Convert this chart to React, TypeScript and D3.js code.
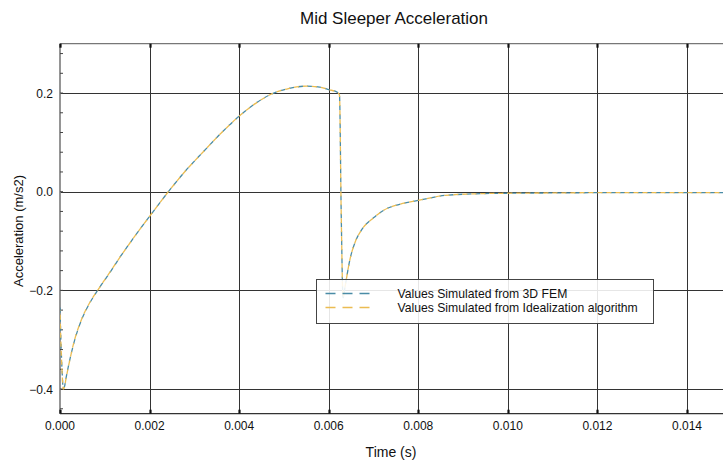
import React, { useRef, useEffect } from 'react'
import * as d3 from 'd3'

const timeFem = [
	0, 0.00002, 0.00005, 0.00007, 0.0001, 0.00013, 0.000185, 0.0003, 0.00048, 0.00065, 0.00084, 0.0011, 0.0013,
	0.0016, 0.002, 0.00242, 0.0028, 0.0032, 0.0036, 0.004, 0.0044, 0.0047, 0.0051, 0.0055, 0.0058, 0.006, 0.0062,
	0.00624, 0.00628, 0.00632, 0.00637, 0.00647, 0.0066, 0.00673, 0.007, 0.00722, 0.0076, 0.008, 0.0086, 0.0094,
	0.0101, 0.011, 0.012, 0.013, 0.014, 0.015,
]
const valuesFem = [
	-0.235, -0.3, -0.37, -0.398, -0.395, -0.38, -0.355, -0.31, -0.26, -0.228, -0.2, -0.166, -0.138, -0.099,
	-0.05, 0, 0.042, 0.081, 0.119, 0.153, 0.181, 0.197, 0.209, 0.214, 0.212, 0.207, 0.201, 0.196, -0.05, -0.215,
	-0.19, -0.139, -0.1, -0.078, -0.053, -0.038, -0.025, -0.0176, -0.0075, -0.004, -0.003, -0.0025, -0.002,
	-0.002, -0.002, -0.002,
]
const valuesIdeal = [
	-0.24, -0.305, -0.372, -0.4, -0.397, -0.381, -0.356, -0.309, -0.259, -0.227, -0.2, -0.165, -0.138, -0.099,
	-0.05, 0, 0.042, 0.081, 0.119, 0.153, 0.181, 0.197, 0.209, 0.214, 0.212, 0.207, 0.201, 0.196, -0.05, -0.215,
	-0.19, -0.139, -0.1, -0.078, -0.053, -0.038, -0.025, -0.0176, -0.0075, -0.004, -0.003, -0.0025, -0.002,
	-0.002, -0.002, -0.002,
]
const xTicks = [0, 0.002, 0.004, 0.006, 0.008, 0.01, 0.012, 0.014]
const yTicks = [-0.4, -0.2, 0.0, 0.2]
const seriesNames = ['Values Simulated from 3D FEM', 'Values Simulated from Idealization algorithm']
const seriesColors = ['#4a8ca6', '#ebbc52']

const App = () => {
	const svgRef = useRef<SVGSVGElement>(null)

	useEffect(() => {
		const svg = d3.select(svgRef.current)
		svg.selectAll('*').remove()

		const width = 723
		const height = 463
		const left = 60
		const top = 43.7
		const bottom = 413.7
		const font = 'Liberation Sans, Arial, sans-serif'

		const xScale = d3.scaleLinear().domain([0, 0.014]).range([60, 687])
		const yScale = d3.scaleLinear().domain([-0.45, 0.3]).range([bottom, top])

		svg.attr('width', width).attr('height', height)

		// grid lines
		svg
			.append('g')
			.selectAll('line')
			.data(xTicks.slice(1))
			.enter()
			.append('line')
			.attr('x1', d => Math.round(xScale(d)) + 0.5)
			.attr('x2', d => Math.round(xScale(d)) + 0.5)
			.attr('y1', top)
			.attr('y2', bottom)
			.attr('stroke', '#333')
			.attr('stroke-width', 1)

		svg
			.append('g')
			.selectAll('line')
			.data(yTicks)
			.enter()
			.append('line')
			.attr('x1', left)
			.attr('x2', width)
			.attr('y1', d => Math.round(yScale(d)) + 0.5)
			.attr('y2', d => Math.round(yScale(d)) + 0.5)
			.attr('stroke', '#333')
			.attr('stroke-width', 1)

		// frame
		svg.append('line').attr('x1', left).attr('x2', width).attr('y1', top).attr('y2', top).attr('stroke', '#777').attr('stroke-width', 1.2)
		svg.append('line').attr('x1', left).attr('x2', width).attr('y1', bottom).attr('y2', bottom).attr('stroke', '#333').attr('stroke-width', 1.2)
		svg.append('line').attr('x1', left).attr('x2', left).attr('y1', top).attr('y2', bottom).attr('stroke', '#8a8a8a').attr('stroke-width', 1.8)

		// tick stubs on top and bottom
		xTicks.forEach(t => {
			const x = Math.round(xScale(t)) + 0.5
			svg.append('line').attr('x1', x).attr('x2', x).attr('y1', top).attr('y2', top + 4).attr('stroke', '#111').attr('stroke-width', 2.2)
			svg.append('line').attr('x1', x).attr('x2', x).attr('y1', bottom - 4).attr('y2', bottom).attr('stroke', '#111').attr('stroke-width', 2.2)
		})

		// minor ticks on left axis
		const minor = d3.range(-0.44, 0.3, 0.04)
		svg
			.append('g')
			.selectAll('line')
			.data(minor)
			.enter()
			.append('line')
			.attr('x1', left)
			.attr('x2', left + 3)
			.attr('y1', d => yScale(d))
			.attr('y2', d => yScale(d))
			.attr('stroke', '#444')

		// tick labels
		svg
			.append('g')
			.selectAll('text')
			.data(xTicks)
			.enter()
			.append('text')
			.attr('x', d => xScale(d))
			.attr('y', 429.5)
			.attr('text-anchor', 'middle')
			.attr('font-family', font)
			.attr('font-size', 12)
			.attr('fill', '#111')
			.text(d => d3.format('.3f')(d))

		svg
			.append('g')
			.selectAll('text')
			.data(yTicks)
			.enter()
			.append('text')
			.attr('x', 53)
			.attr('y', d => yScale(d) + 4.5)
			.attr('text-anchor', 'end')
			.attr('font-family', font)
			.attr('font-size', 12)
			.attr('fill', '#111')
			.text(d => d3.format('.1f')(d))

		// titles
		svg
			.append('text')
			.attr('x', 394)
			.attr('y', 24)
			.attr('text-anchor', 'middle')
			.attr('font-family', font)
			.attr('font-size', 17)
			.attr('fill', '#111')
			.text('Mid Sleeper Acceleration')

		svg
			.append('text')
			.attr('x', 391)
			.attr('y', 457)
			.attr('text-anchor', 'middle')
			.attr('font-family', font)
			.attr('font-size', 14)
			.attr('fill', '#111')
			.text('Time (s)')

		svg
			.append('text')
			.attr('transform', 'translate(23, 231) rotate(-90)')
			.attr('text-anchor', 'middle')
			.attr('font-family', font)
			.attr('font-size', 13)
			.attr('fill', '#111')
			.text('Acceleration (m/s2)')

		// curves
		const line = d3
			.line<number>()
			.x((_, i) => xScale(timeFem[i]))
			.y(d => yScale(d))
			.curve(d3.curveMonotoneX)

		const clip = svg.append('defs').append('clipPath').attr('id', 'plot-clip')
		clip.append('rect').attr('x', left).attr('y', top).attr('width', width - left).attr('height', bottom - top)

		const curves = svg.append('g').attr('clip-path', 'url(#plot-clip)')
		curves
			.append('path')
			.attr('d', line(valuesFem))
			.attr('fill', 'none')
			.attr('stroke', seriesColors[0])
			.attr('stroke-width', 1.3)
			.attr('stroke-dasharray', '5 4')
		curves
			.append('path')
			.attr('d', line(valuesIdeal))
			.attr('fill', 'none')
			.attr('stroke', seriesColors[1])
			.attr('stroke-width', 1.3)
			.attr('stroke-dasharray', '5 4')
			.attr('stroke-dashoffset', 4.5)

		// legend
		const legend = svg.append('g').attr('transform', 'translate(316.5, 279.5)')
		legend
			.append('rect')
			.attr('width', 337)
			.attr('height', 44)
			.attr('fill', 'white')
			.attr('fill-opacity', 0.88)
			.attr('stroke', '#444')
		seriesNames.forEach((name, i) => {
			const y = 14 + i * 14
			legend
				.append('line')
				.attr('x1', 9)
				.attr('x2', 57)
				.attr('y1', y)
				.attr('y2', y)
				.attr('stroke', seriesColors[i])
				.attr('stroke-width', 1.3)
				.attr('stroke-dasharray', '10 7')
			legend
				.append('text')
				.attr('x', 81)
				.attr('y', y + 4.5)
				.attr('font-family', font)
				.attr('font-size', 12.2)
				.attr('fill', '#111')
				.text(name)
		})
	}, [])

	return <svg ref={svgRef} style={{ position: 'absolute', left: 0, top: 0 }}></svg>
}

export default App
